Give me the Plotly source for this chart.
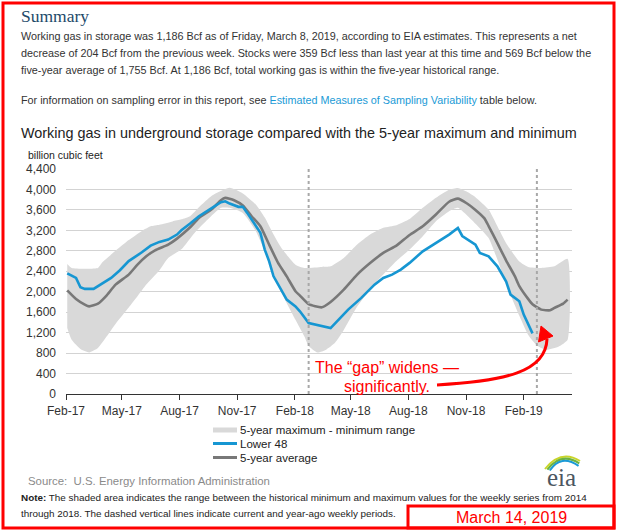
import numpy as np
import pandas as pd
import plotly.graph_objects as go

# ---------------- data (weekly periods counted from the first report week) ----------------
start_week = "2017-02-24"

max_weeks = [0, 1, 7, 8, 11, 14, 17, 19, 21, 24, 26, 28, 30, 33, 37, 40, 43, 45, 47, 49, 52, 54,
             58, 60, 63, 66, 69, 72, 75, 78, 81, 84, 87, 89, 91, 93, 96, 98, 100, 103, 105, 108, 111, 114]
max_bcf = [2544, 2466, 2466, 2575, 2800, 3010, 3190, 3280, 3310, 3375, 3415, 3476, 3650, 3880, 4031, 3920,
           3700, 3450, 3118, 2830, 2530, 2466, 2485, 2497, 2661, 2920, 3118, 3249, 3300, 3420, 3640, 3836,
           3995, 4030, 3960, 3850, 3607, 3280, 2950, 2590, 2485, 2466, 2497, 2642]

min_weeks = [0, 1, 3, 5, 7, 9, 11, 14, 16, 18, 21, 23, 26, 29, 32, 35, 37, 40, 43, 45, 47, 49, 52, 54,
             55, 57, 59, 61, 63, 66, 70, 72, 75, 78, 81, 84, 87, 89, 91, 93, 96, 98, 100, 103, 105, 107,
             109, 112, 114]
min_bcf = [1292, 1060, 881, 814, 900, 1127, 1370, 1690, 1910, 2139, 2420, 2660, 2830, 3150, 3411, 3640,
           3640, 3542, 3180, 2800, 2368, 1950, 1450, 1127, 940, 814, 867, 1000, 1250, 1700, 2150, 2335,
           2600, 2824, 3084, 3378, 3574, 3640, 3500, 3330, 3050, 2628, 2150, 1530, 1160, 950, 867, 931, 1063]

avg_weeks = [0, 2, 4, 5, 7, 9, 11, 14, 16, 18, 20, 23, 25, 28, 30, 33, 35, 36, 38, 40, 42, 44, 46, 48,
             50, 52, 53, 55, 58, 60, 63, 66, 69, 72, 75, 78, 81, 84, 87, 89, 91, 93, 95, 96, 98, 100, 102,
             103, 105, 106, 108, 110, 111, 113, 114]
avg_bcf = [2028, 1859, 1748, 1714, 1767, 1930, 2139, 2335, 2530, 2693, 2810, 2922, 3039, 3260, 3444, 3620,
           3789, 3836, 3789, 3685, 3476, 3280, 2920, 2570, 2300, 2010, 1925, 1757, 1695, 1800, 2041, 2330,
           2560, 2759, 2900, 3110, 3280, 3509, 3760, 3820, 3730, 3600, 3440, 3285, 2950, 2610, 2300, 2110,
           1860, 1755, 1650, 1636, 1683, 1767, 1845]

l48_weeks = [0, 2, 3, 4, 6, 8, 10, 12, 14, 17, 19, 21, 23, 25, 26, 28, 30, 33, 35, 36, 37, 39, 40, 41,
             42, 44, 45, 46, 47, 48, 49, 50, 52, 53, 55, 58, 60, 62, 64, 67, 70, 72, 74, 76, 78, 81, 84,
             87, 89, 90, 93, 94, 96, 98, 100, 101, 103, 104, 106]
l48_bcf = [2360, 2270, 2086, 2055, 2055, 2160, 2270, 2420, 2600, 2771, 2902, 2975, 3020, 3118, 3202, 3333,
           3476, 3640, 3750, 3769, 3724, 3660, 3660, 3542, 3411, 3151, 2824, 2595, 2301, 2158, 2008, 1845,
           1714, 1617, 1389, 1323, 1290, 1470, 1650, 1880, 2139, 2270, 2335, 2432, 2564, 2791, 2955, 3118,
           3249, 3090, 2922, 2759, 2693, 2497, 2200, 1943, 1812, 1552, 1186]

period_marks = ["2018-03-16", "2019-03-15"]

tick_dates = ["2017-02-22", "2017-05-22", "2017-08-22", "2017-11-22", "2018-02-22",
              "2018-05-22", "2018-08-22", "2018-11-22", "2019-02-22"]
tick_labels = ["Feb-17", "May-17", "Aug-17", "Nov-17", "Feb-18", "May-18", "Aug-18", "Nov-18", "Feb-19"]
x_range = ["2017-02-22", "2019-05-10"]


def to_dates(weeks):
    return pd.Timestamp(start_week) + pd.to_timedelta(7 * np.asarray(weeks), unit="D")


# ---------------- layout geometry (pixels) ----------------
FW, FH = 617, 532
L, R, T, B = 66, 572, 169, 394
PW, PH = R - L, B - T


def px(x):
    return (x - L) / PW


def py(y):
    return (B - y) / PH


BLUE = "#1696d2"
GRAY = "#787878"
BAND = "#d9d9d9"
RED = "#ff0000"
FONT = "Liberation Sans"

fig = go.Figure()

band_x = list(to_dates(max_weeks)) + list(to_dates(min_weeks))[::-1]
band_y = list(max_bcf) + list(min_bcf)[::-1]
fig.add_trace(go.Scatter(x=band_x, y=band_y, fill="toself", fillcolor=BAND, mode="lines",
                         line=dict(width=0, shape="spline", smoothing=0.5), hoverinfo="skip",
                         name="5-year maximum - minimum range", showlegend=False))
fig.add_trace(go.Scatter(x=to_dates(avg_weeks), y=avg_bcf, mode="lines",
                         line=dict(color=GRAY, width=2.6, shape="spline", smoothing=0.5),
                         name="5-year average", showlegend=False))
fig.add_trace(go.Scatter(x=to_dates(l48_weeks), y=l48_bcf, mode="lines",
                         line=dict(color=BLUE, width=2.6),
                         name="Lower 48", showlegend=False))

shapes = []
for d in period_marks:
    shapes.append(dict(type="line", xref="x", yref="paper", x0=d, x1=d, y0=0, y1=1,
                       line=dict(color="#a8a8a8", width=2, dash="dot"), layer="above"))

# curved red arrow of the annotation
shapes.append(dict(type="path", xref="paper", yref="paper",
                   path=f"M {px(437)},{py(385)} C {px(505)},{py(381)} {px(546)},{py(372)} {px(547)},{py(339)}",
                   line=dict(color=RED, width=3)))
shapes.append(dict(type="path", xref="paper", yref="paper",
                   path=f"M {px(541)},{py(326)} L {px(538.5)},{py(342)} L {px(553)},{py(336)} Z",
                   fillcolor=RED, line=dict(color=RED, width=1)))

# legend swatches
shapes.append(dict(type="rect", xref="paper", yref="paper", x0=px(213), x1=px(237), y0=py(427.5), y1=py(432.5),
                   fillcolor=BAND, line=dict(width=0)))
shapes.append(dict(type="line", xref="paper", yref="paper", x0=px(213), x1=px(237), y0=py(443.5), y1=py(443.5),
                   line=dict(color=BLUE, width=3)))
shapes.append(dict(type="line", xref="paper", yref="paper", x0=px(213), x1=px(237), y0=py(457.5), y1=py(457.5),
                   line=dict(color=GRAY, width=3)))

# eia logo arcs
for i, col in enumerate(["#c9d52b", "#6cb33f", "#1b9ad6"]):
    o = i * 2.4
    shapes.append(dict(type="path", xref="paper", yref="paper",
                       path=f"M {px(545 + o)},{py(469 + o * 0.3)} Q {px(561)},{py(449 + o)} {px(580 - o * 0.3)},{py(461 + o)}",
                       line=dict(color=col, width=2)))

# red frames
shapes.append(dict(type="rect", xref="paper", yref="paper", x0=px(3), x1=px(614), y0=py(3), y1=py(528),
                   line=dict(color=RED, width=3), fillcolor="rgba(0,0,0,0)"))
shapes.append(dict(type="rect", xref="paper", yref="paper", x0=px(408), x1=px(614), y0=py(506), y1=py(528),
                   line=dict(color=RED, width=3), fillcolor="rgba(0,0,0,0)"))


def ann(text, x, y, size, color="#333333", family=FONT, xanchor="left"):
    return dict(text=text, x=px(x), y=py(y), xref="paper", yref="paper", xanchor=xanchor, yanchor="middle",
                showarrow=False, font=dict(family=family, size=size, color=color))


body = "#333333"
annotations = [
    ann("Summary", 19, 16, 17.5, color="#1d4a6a", family="Liberation Serif"),
    ann("Working gas in storage was 1,186 Bcf as of Friday, March 8, 2019, according to EIA estimates. This represents a net",
        19, 36, 10.8, body),
    ann("decrease of 204 Bcf from the previous week. Stocks were 359 Bcf less than last year at this time and 569 Bcf below the",
        19, 53, 10.8, body),
    ann("five-year average of 1,755 Bcf. At 1,186 Bcf, total working gas is within the five-year historical range.",
        19, 70, 10.8, body),
    ann("For information on sampling error in this report, see <span style='color:#1a9ad6'>Estimated Measures of Sampling Variability</span> table below.",
        19, 100, 10.8, body),
    ann("Working gas in underground storage compared with the 5-year maximum and minimum", 19, 133, 14.4, "#222222"),
    ann("billion cubic feet", 26, 155, 10.5, "#222222"),
    ann("The “gap” widens —", 387, 367, 16, RED, xanchor="center"),
    ann("significantly.", 387, 386, 16, RED, xanchor="center"),
    ann("5-year maximum - minimum range", 238, 430, 11.5, "#222222"),
    ann("Lower 48", 238, 443.5, 11.5, "#222222"),
    ann("5-year average", 238, 457.5, 11.5, "#222222"),
    ann("eia", 561, 477, 25, "#4b5660", family="Liberation Serif", xanchor="center"),
    ann("Source:  U.S. Energy Information Administration", 26, 481, 11.4, "#8a8a8a"),
    ann("<b>Note:</b> The shaded area indicates the range between the historical minimum and maximum values for the weekly series from 2014",
        19, 497.5, 9.9, "#222222"),
    ann("through 2018. The dashed vertical lines indicate current and year-ago weekly periods.",
        19, 513, 9.9, "#222222"),
    ann("March 14, 2019", 511, 517.5, 16, RED, xanchor="center"),
]

fig.update_layout(
    width=FW, height=FH, margin=dict(l=L, r=FW - R, t=T, b=FH - B, pad=0),
    paper_bgcolor="white", plot_bgcolor="white", showlegend=False,
    font=dict(family=FONT, color="#333333"),
    shapes=shapes, annotations=annotations,
    xaxis=dict(type="date", range=x_range, tickvals=tick_dates, ticktext=tick_labels,
               showgrid=False, zeroline=False, showline=True, linecolor="#333333", linewidth=1.3,
               ticks="outside", ticklen=5, tickcolor="#333333", tickwidth=1,
               tickfont=dict(size=12, color="#333333", family=FONT)),
    yaxis=dict(range=[0, 4400], dtick=400, tick0=0, tickformat=",", showgrid=True, gridcolor="#d3d3d3",
               gridwidth=1, zeroline=False, showline=False, ticks="", ticklabelstandoff=9,
               tickfont=dict(size=12, color="#333333", family=FONT)),
)

fig.write_html("out.html", config={"displayModeBar": False},
               post_script="document.body.style.margin='0';")
